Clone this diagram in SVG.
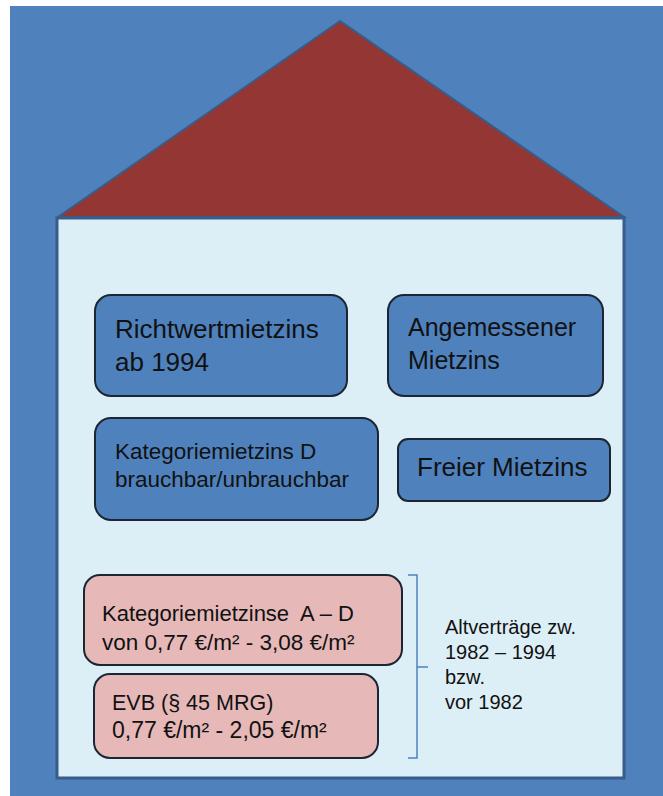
<svg xmlns="http://www.w3.org/2000/svg" width="663" height="796" viewBox="0 0 663 796">
<style>
.t{font-family:"Liberation Sans",Arial,sans-serif;fill:#111;}
.blue{fill:#4F81BD;stroke:#1c2533;stroke-width:2;}
.pink{fill:#E6B9B8;stroke:#1c2533;stroke-width:2;}
</style>
<rect x="0" y="0" width="663" height="796" fill="#ffffff"/>
<rect x="10" y="6" width="653" height="790" fill="#4F81BD"/>
<g id="house">
<polygon points="340,21 58,217 624,217" fill="#943634" stroke="#385D8A" stroke-width="2"/>
<rect x="57" y="218" width="567" height="560" fill="#DCEEF6" stroke="#385D8A" stroke-width="3"/>
</g>
<g id="richtwert">
<rect class="blue" x="95" y="295" width="252" height="101" rx="16"/>
<text class="t" x="115" y="338" font-size="26">Richtwertmietzins</text>
<text class="t" x="115" y="371" font-size="26">ab 1994</text>
</g>
<g id="angemessen">
<rect class="blue" x="388" y="295" width="215" height="101" rx="16"/>
<text class="t" x="408" y="336" font-size="25">Angemessener</text>
<text class="t" x="408" y="369" font-size="25">Mietzins</text>
</g>
<g id="kategorieD">
<rect class="blue" x="95" y="418" width="283" height="102" rx="16"/>
<text class="t" x="115" y="459" font-size="22.5">Kategoriemietzins D</text>
<text class="t" x="115" y="487" font-size="22.5">brauchbar/unbrauchbar</text>
</g>
<g id="frei">
<rect class="blue" x="398" y="439" width="212" height="62" rx="10"/>
<text class="t" x="417" y="476" font-size="26">Freier Mietzins</text>
</g>
<g id="kategorieAD">
<rect class="pink" x="84" y="575" width="318" height="90" rx="16"/>
<text class="t" x="102" y="621" font-size="22" xml:space="preserve">Kategoriemietzinse  A – D</text>
<text class="t" x="102" y="650" font-size="22.5">von 0,77 €/m² - 3,08 €/m²</text>
</g>
<g id="evb">
<rect class="pink" x="94" y="674" width="284" height="84" rx="16"/>
<text class="t" x="112" y="710" font-size="21.5">EVB (§ 45 MRG)</text>
<text class="t" x="112" y="738" font-size="23">0,77 €/m² - 2,05 €/m²</text>
</g>
<g id="connectors">
<path d="M408,575 H417 V758 H408 M417,667 H428" fill="none" stroke="#4F81BD" stroke-width="1.5"/>
</g>
<g id="altvertraege">
<text class="t" x="445" y="634" font-size="20">Altverträge zw.</text>
<text class="t" x="445" y="659" font-size="20">1982 – 1994</text>
<text class="t" x="445" y="684" font-size="20">bzw.</text>
<text class="t" x="445" y="709" font-size="20">vor 1982</text>
</g>
</svg>
